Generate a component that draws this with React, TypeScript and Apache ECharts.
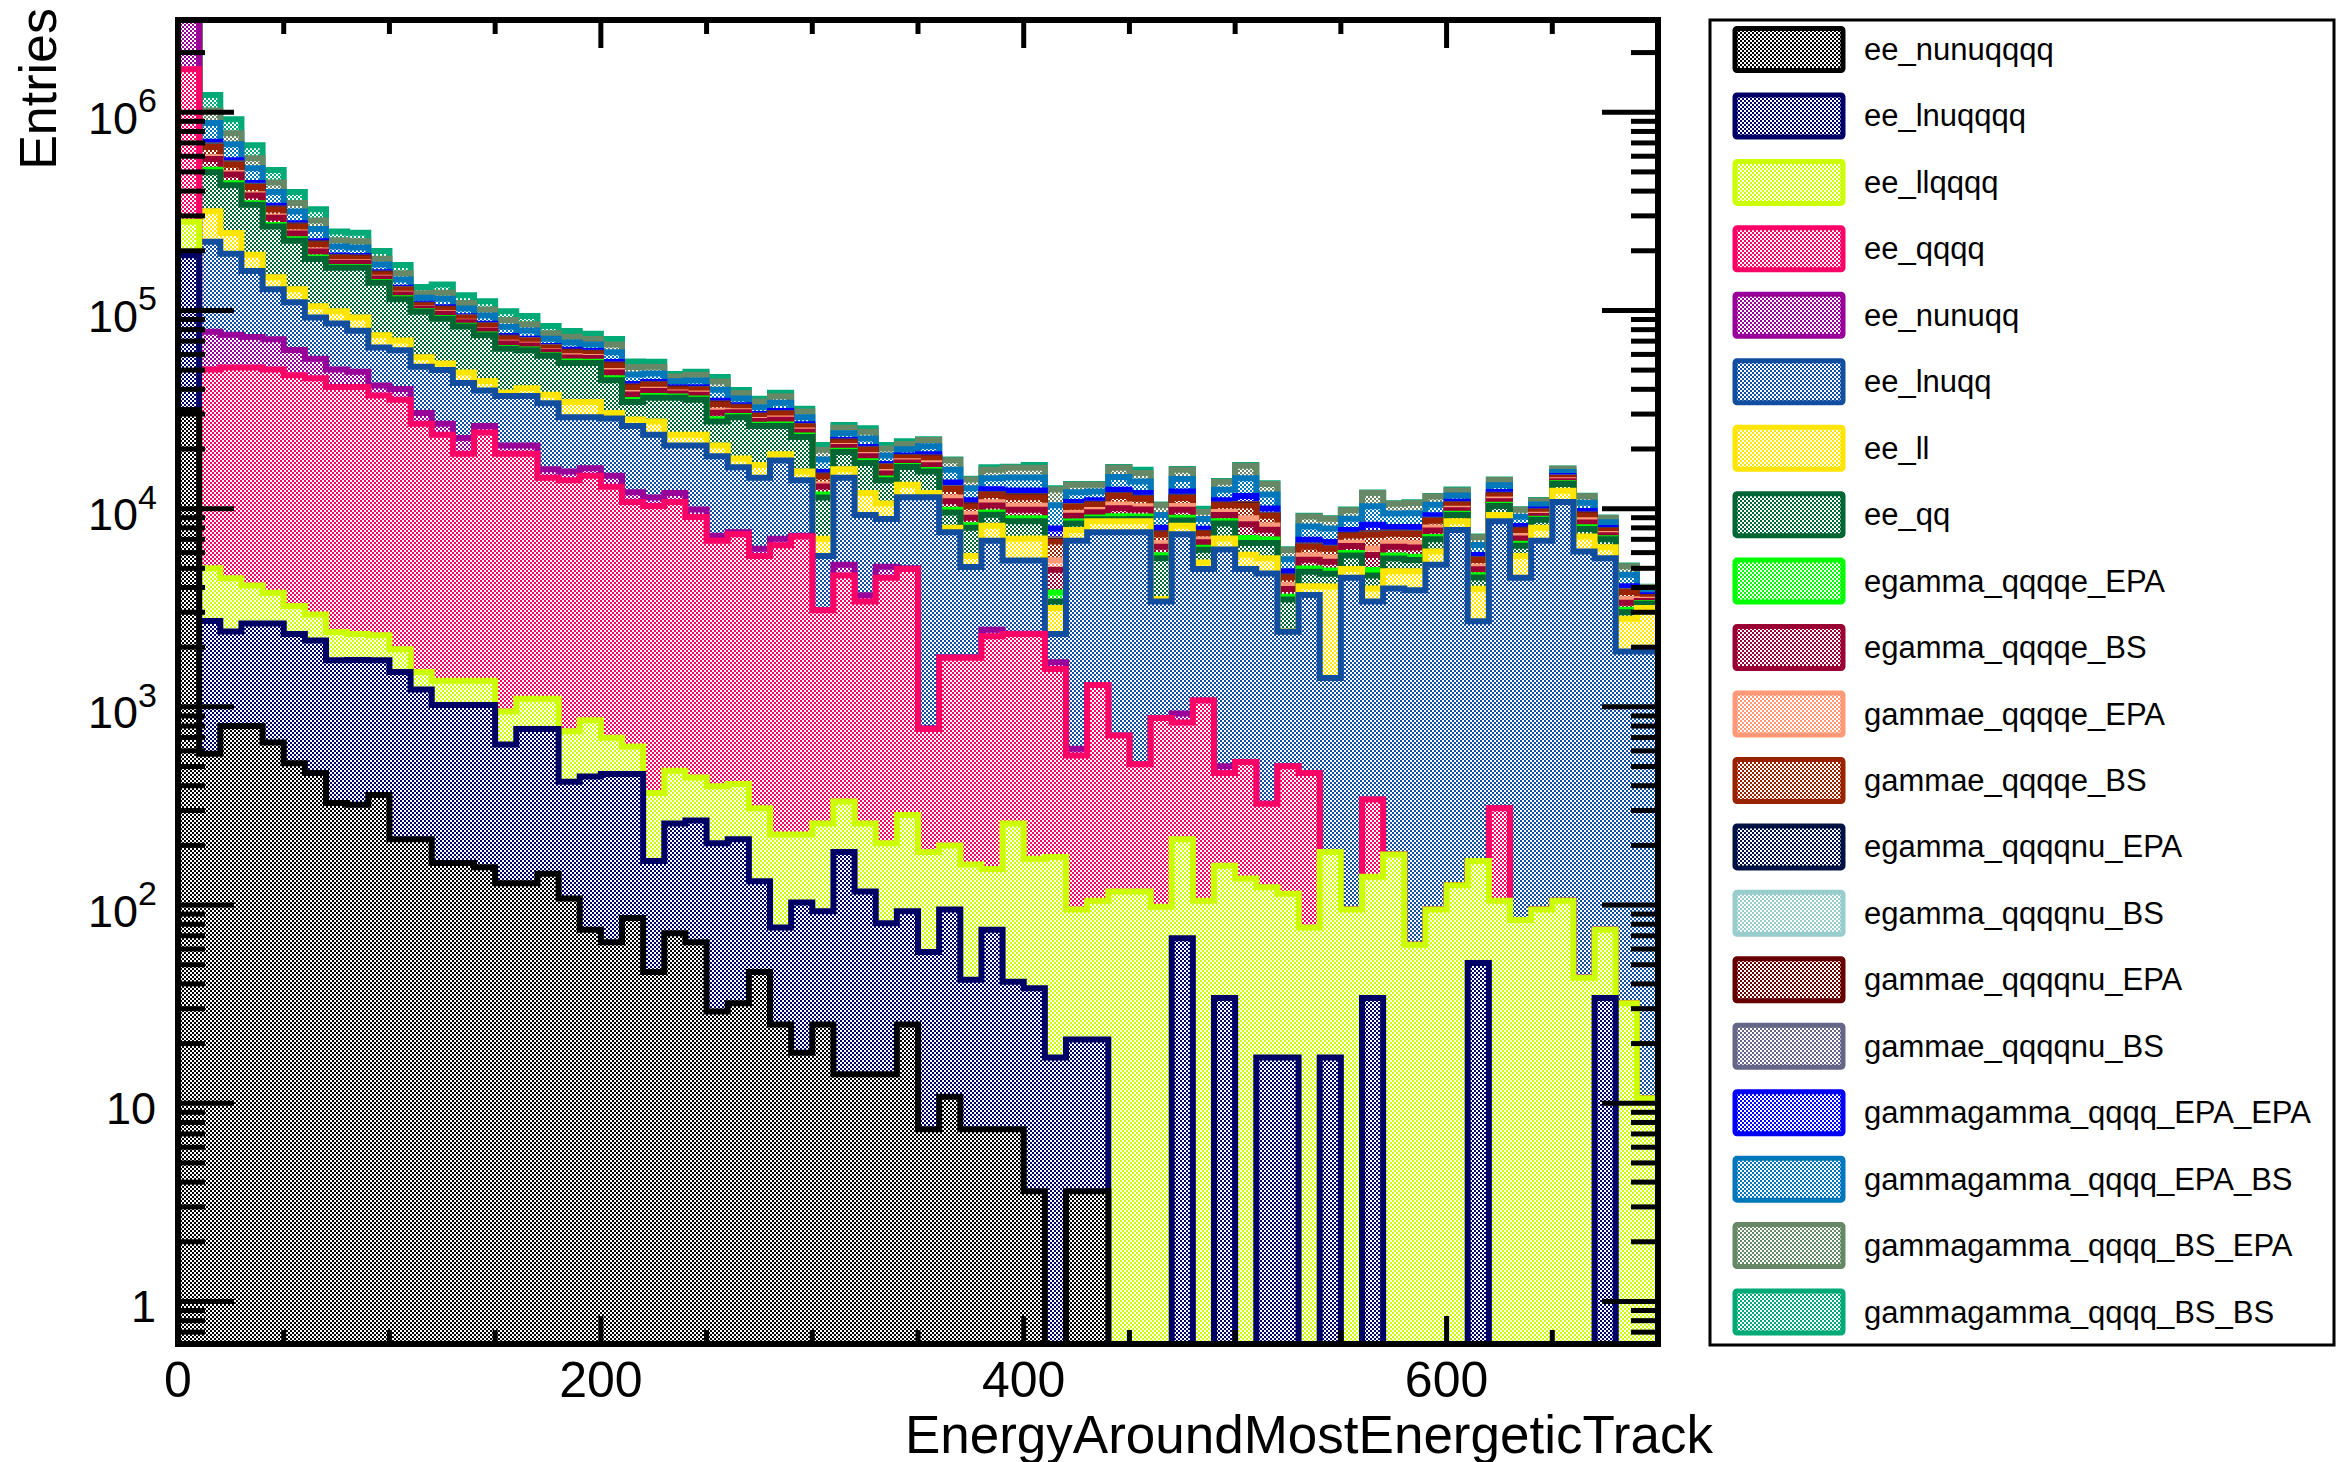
import React, { useEffect, useRef } from 'react';
import * as echarts from 'echarts';

const FONT = '"Liberation Sans", Arial, Helvetica, sans-serif';
const BIN_WIDTH = 10;
const X_MIN = 0;
const X_MAX = 700;
const Y_MIN = 0.61;
const Y_MAX = 2.92e6;

const X_TICK_LABELS = [0, 200, 400, 600];
const Y_LABEL_EXPONENTS = [0, 1, 2, 3, 4, 5, 6];

const NAMES = [
  'ee_nunuqqqq', 'ee_lnuqqqq', 'ee_llqqqq', 'ee_qqqq', 'ee_nunuqq', 'ee_lnuqq', 'ee_ll', 'ee_qq',
  'egamma_qqqqe_EPA', 'egamma_qqqqe_BS', 'gammae_qqqqe_EPA', 'gammae_qqqqe_BS',
  'egamma_qqqqnu_EPA', 'egamma_qqqqnu_BS', 'gammae_qqqqnu_EPA', 'gammae_qqqqnu_BS',
  'gammagamma_qqqq_EPA_EPA', 'gammagamma_qqqq_EPA_BS', 'gammagamma_qqqq_BS_EPA', 'gammagamma_qqqq_BS_BS',
];

const COLORS = [
  '#000000', '#000066', '#ccff00', '#ff0066', '#990099', '#124ea0', '#ffe500', '#006633',
  '#00ff00', '#990033', '#ff9977', '#992200',
  '#001144', '#99cccc', '#660000', '#666688',
  '#0000ff', '#0077bb', '#668866', '#00aa77',
];

// values per 10-unit bin (70 bins, 0..700)
const ee_nunuqqqq = [
  31500, 580, 800, 800, 660, 520, 464, 327, 321, 359,
  215, 215, 163, 163, 155, 129, 129, 144, 108, 75,
  65, 86, 46, 72, 65, 29, 32, 46, 25, 18,
  25, 14, 14, 14, 25, 7.4, 10.8, 7.4, 7.4, 7.4,
  3.6, 0, 3.6, 3.6, 0, 0, 0, 0, 0, 0,
  0, 0, 0, 0, 0, 0, 0, 0, 0, 0,
  0, 0, 0, 0, 0, 0, 0, 0, 0, 0,
];
const ee_lnuqqqq = [
  158500, 2130, 1600, 1830, 1970, 1810, 1700, 1390, 1400, 1360,
  1285, 1010, 860, 860, 868, 517, 643, 628, 311, 370,
  394, 373, 121, 186, 202, 176, 183, 86, 52, 85,
  68, 171, 103, 67, 68, 50.6, 84.2, 34.6, 67.6, 33.6,
  34.4, 17, 17.4, 17.4, 0, 0, 0, 68, 0, 34,
  0, 17, 17, 0, 17, 0, 34, 0, 0, 0,
  0, 51, 0, 0, 0, 0, 0, 34, 0, 0,
];
const ee_llqqqq = [
  90000, 2290, 2050, 1470, 1130, 900, 760, 670, 610, 580,
  450, 275, 333, 333, 333, 302, 328, 328, 334, 410,
  239, 171, 201, 218, 173, 193, 193, 176, 150, 124,
  165, 148, 141, 124, 192, 127, 105, 118, 77, 217,
  133, 158, 74, 84, 117, 117, 98, 147, 105, 124,
  136, 106, 97, 77, 168, 95, 105, 180, 63, 95,
  126, 116, 105, 84, 95, 105, 43, 41, 32, 10.6,
];
const ee_qqqq = [
  1370000, 45300, 47150, 47500, 46540, 43870, 42580, 38710, 38770, 34900,
  33450, 25300, 22240, 17540, 22840, 17950, 17800, 13200, 13150, 13800,
  12200, 10170, 9930, 10320, 8630, 6480, 7010, 5460, 6310, 7000,
  2810, 4260, 3140, 4280, 4680, 588, 1570, 1610, 2120, 2070,
  2160, 1375, 474, 1185, 599, 397, 781, 619, 972, 306,
  391, 201, 387, 387, 0, 0, 202, 0, 0, 0,
  0, 0, 203, 0, 0, 0, 0, 0, 0, 0,
];
const ee_nunuqq = [
  1850000, 27700, 23700, 21800, 21300, 16000, 11600, 9200, 7900, 4600,
  4700, 3600, 3200, 3800, 1900, 1900, 1900, 1500, 1500, 1350,
  1750, 1300, 1100, 1200, 820, 420, 180, 510, 510, 70,
  0, 620, 260, 600, 40, 7, 10, 10, 180, 10,
  10, 130, 45, 0, 0, 0, 0, 91, 0, 37,
  0, 0, 0, 0, 0, 0, 0, 0, 0, 0,
  0, 0, 0, 0, 0, 0, 0, 0, 0, 0,
];
const ee_lnuqq = [
  100000, 144000, 117700, 84600, 56400, 46900, 34900, 35700, 30000, 23200,
  22900, 21600, 23200, 20300, 13400, 16200, 16200, 18200, 13500, 12900,
  13850, 14000, 12200, 8800, 10910, 11100, 8600, 8020, 10450, 6600,
  2700, 9090, 5640, 3770, 6400, 10620, 5820, 3300, 4430, 3140,
  3140, 650, 6270, 6310, 6880, 7090, 2520, 6500, 3880, 5720,
  4430, 4390, 1890, 3200, 1215, 4385, 3060, 3770, 3810, 5115,
  7670, 2540, 8320, 4400, 6785, 10700, 6030, 5545, 1870, 1890,
];
const ee_ll = [
  50000, 95000, 53000, 33000, 19000, 18000, 13000, 13000, 13000, 10000,
  7500, 6000, 4000, 5600, 4500, 1600, 3500, 3600, 5600, 5600,
  1900, 2100, 3900, 2800, 2800, 2400, 1700, 2300, 1300, 1500,
  1290, 1500, 2700, 1750, 1800, 600, 400, 690, 1320, 1580,
  1580, 820, 920, 1030, 1030, 1030, 100, 780, 390, 840,
  890, 910, 10, 390, 2650, 480, 550, 880, 960, 860,
  830, 1240, 670, 1290, 1120, 1500, 1160, 760, 880, 1250,
];
const ee_qq = [
  50000, 181000, 182000, 150000, 118000, 97000, 77000, 65000, 72000, 63000,
  43500, 40400, 36800, 34400, 31000, 25400, 22500, 21400, 19800, 19800,
  14000, 6300, 8800, 12700, 11800, 6700, 11000, 9500, 7300, 7600,
  4340, 3500, 5000, 3300, 3000, 3400, 1550, 2230, 1100, 1570,
  1570, 250, 610, 220, 220, 220, 2120, 500, 850, 1350,
  860, 1090, 1080, 750, 650, 840, 650, 770, 670, 930,
  670, 550, 1000, 730, 800, 1000, 670, 620, 220, 150,
];
const egamma_qqqqe_EPA = [
  10000, 14400, 9840, 6780, 4900, 3400, 2820, 1720, 1640, 1220,
  1100, 652, 884, 720, 720, 700, 610, 488, 888, 796,
  1040, 792, 720, 464, 548, 748, 432, 392, 496, 360,
  384, 288, 340, 284, 228, 284, 334, 252, 268, 311,
  311, 380, 200, 182, 302, 262, 199, 292, 144, 220,
  408, 276, 113, 180, 175, 168, 308, 208, 216, 188,
  128, 112, 152, 140, 92, 108, 152, 83, 88, 30,
];
const egamma_qqqqe_BS = [
  10000, 68600, 46700, 32200, 23300, 16200, 13400, 8170, 7790, 5800,
  5230, 3100, 4200, 3420, 3420, 3330, 2900, 2320, 2660, 2390,
  3130, 2380, 2160, 1390, 1640, 2240, 1300, 1180, 1490, 1080,
  1150, 864, 1020, 852, 684, 852, 1000, 756, 804, 932,
  932, 1140, 599, 546, 906, 786, 598, 876, 432, 659,
  1220, 827, 338, 540, 524, 504, 924, 624, 648, 564,
  384, 336, 456, 420, 276, 324, 456, 248, 265, 90,
];
const gammae_qqqqe_EPA = [
  2000, 12000, 8500, 6000, 4500, 3000, 2600, 1500, 1500, 1100,
  1000, 600, 800, 650, 650, 640, 560, 450, 800, 700,
  950, 700, 650, 420, 500, 680, 400, 360, 450, 330,
  350, 260, 310, 260, 210, 426, 501, 378, 402, 466,
  466, 570, 299, 273, 453, 393, 299, 438, 216, 329,
  611, 413, 169, 270, 262, 252, 462, 312, 324, 282,
  192, 168, 228, 210, 138, 162, 228, 124, 133, 45,
];
const gammae_qqqqe_BS = [
  10000, 75000, 50000, 34000, 25000, 17500, 14500, 9000, 8500, 6300,
  5700, 3400, 4600, 3700, 3700, 3600, 3150, 2500, 2890, 2590,
  3390, 2570, 2340, 1510, 1780, 2430, 1400, 1270, 1610, 1170,
  1250, 936, 1110, 923, 741, 994, 1170, 882, 938, 1090,
  1090, 1330, 699, 637, 1060, 917, 697, 1020, 504, 769,
  1430, 965, 395, 630, 612, 588, 1080, 728, 756, 658,
  448, 392, 532, 490, 322, 378, 532, 290, 309, 105,
];
const egamma_qqqqnu_EPA = [
  1000, 3600, 2460, 1700, 1230, 850, 705, 430, 410, 305,
  275, 163, 221, 180, 180, 175, 153, 122, 111, 100,
  130, 99, 90, 58, 69, 94, 54, 49, 62, 45,
  48, 36, 43, 36, 29, 36, 42, 32, 34, 39,
  39, 48, 25, 23, 38, 33, 25, 37, 18, 27,
  51, 34, 14, 23, 22, 21, 39, 26, 27, 24,
  16, 14, 19, 18, 12, 14, 19, 10, 11, 4,
];
const egamma_qqqqnu_BS = [
  600, 2200, 1500, 1000, 740, 510, 420, 260, 250, 180,
  165, 100, 130, 110, 110, 105, 92, 73, 67, 60,
  78, 59, 54, 35, 41, 56, 32, 29, 37, 27,
  29, 22, 26, 22, 17, 22, 25, 19, 20, 23,
  23, 29, 15, 14, 23, 20, 15, 22, 11, 16,
  31, 20, 8, 14, 13, 13, 23, 16, 16, 14,
  10, 8, 11, 11, 7, 8, 11, 6, 7, 2,
];
const gammae_qqqqnu_EPA = [
  1300, 4700, 3200, 2200, 1600, 1100, 920, 560, 530, 400,
  360, 210, 290, 234, 234, 228, 200, 159, 144, 130,
  169, 129, 117, 75, 90, 122, 70, 64, 81, 59,
  62, 47, 56, 47, 38, 47, 55, 42, 44, 51,
  51, 62, 33, 30, 49, 43, 33, 48, 23, 35,
  66, 44, 18, 30, 29, 27, 51, 34, 35, 31,
  21, 18, 25, 23, 16, 18, 25, 13, 14, 5,
];
const gammae_qqqqnu_BS = [
  800, 2900, 2000, 1360, 980, 680, 560, 340, 330, 244,
  220, 130, 177, 144, 144, 140, 122, 98, 89, 80,
  104, 79, 72, 46, 55, 75, 43, 39, 50, 36,
  38, 29, 34, 29, 23, 29, 34, 26, 27, 31,
  31, 38, 20, 18, 30, 26, 20, 30, 14, 22,
  41, 27, 11, 18, 18, 17, 31, 21, 22, 19,
  13, 11, 15, 14, 10, 11, 15, 8, 9, 3,
];
const gammagamma_qqqq_EPA_EPA = [
  5000, 28900, 19700, 13600, 9800, 6800, 5640, 3440, 3280, 2440,
  2200, 1300, 1770, 1440, 1440, 1400, 1220, 976, 1330, 1190,
  1570, 1190, 1080, 696, 822, 1120, 648, 588, 744, 540,
  576, 432, 510, 426, 342, 710, 835, 630, 670, 777,
  777, 950, 499, 455, 755, 655, 498, 730, 360, 549,
  1020, 689, 282, 450, 437, 420, 770, 520, 540, 470,
  320, 280, 380, 350, 230, 270, 380, 207, 221, 75,
];
const gammagamma_qqqq_EPA_BS = [
  30000, 173000, 118000, 81400, 58800, 40800, 33800, 20600, 19700, 14600,
  13200, 7820, 10600, 8640, 8640, 8400, 7320, 5860, 5550, 4980,
  6530, 4950, 4500, 2900, 3430, 4680, 2700, 2450, 3100, 2250,
  2400, 1800, 2130, 1780, 1430, 1850, 2170, 1640, 1740, 2020,
  2020, 2470, 1300, 1180, 1960, 1700, 1290, 1900, 936, 1430,
  2650, 1790, 733, 1170, 1140, 1090, 2000, 1350, 1400, 1220,
  832, 728, 988, 910, 598, 702, 988, 538, 575, 195,
];
const gammagamma_qqqq_BS_EPA = [
  30000, 137000, 93500, 64400, 46600, 32300, 26800, 16300, 15600, 11600,
  10500, 6190, 8400, 6840, 6840, 6650, 5800, 4640, 4880, 4380,
  5740, 4360, 3960, 2550, 3010, 4110, 2380, 2160, 2730, 1980,
  2110, 1580, 1870, 1560, 1250, 1560, 1840, 1390, 1470, 1710,
  1710, 2090, 1100, 1000, 1660, 1440, 1100, 1610, 792, 1210,
  2240, 1520, 620, 990, 961, 924, 1690, 1140, 1190, 1030,
  704, 616, 836, 770, 506, 594, 836, 455, 486, 165,
];
const gammagamma_qqqq_BS_BS = [
  30000, 202000, 138000, 94900, 68600, 47600, 39500, 24100, 23000, 17100,
  15400, 9130, 12400, 10100, 10100, 9800, 8540, 6830, 5000, 4500,
  4500, 3500, 3000, 1390, 1640, 2240, 1300, 1180, 1490, 1080,
  1150, 864, 1020, 852, 684, 200, 150, 120, 450, 200,
  500, 150, 100, 100, 150, 600, 100, 150, 350, 100,
  150, 100, 60, 80, 60, 80, 100, 80, 100, 90,
  120, 50, 70, 60, 50, 60, 80, 40, 40, 15,
];

const LAYERS = [
  ee_nunuqqqq, ee_lnuqqqq, ee_llqqqq, ee_qqqq, ee_nunuqq, ee_lnuqq, ee_ll, ee_qq,
  egamma_qqqqe_EPA, egamma_qqqqe_BS, gammae_qqqqe_EPA, gammae_qqqqe_BS,
  egamma_qqqqnu_EPA, egamma_qqqqnu_BS, gammae_qqqqnu_EPA, gammae_qqqqnu_BS,
  gammagamma_qqqq_EPA_EPA, gammagamma_qqqq_EPA_BS, gammagamma_qqqq_BS_EPA, gammagamma_qqqq_BS_BS,
];

const N_BINS = ee_nunuqqqq.length;
const CUMULATIVE: number[][] = LAYERS.map((_, k) =>
  Array.from({ length: N_BINS }, (_, i) => {
    let s = 0;
    for (let j = 0; j <= k; j++) s += LAYERS[j][i] || 0;
    return s;
  })
);

function makePattern(color: string) {
  const c = document.createElement('canvas');
  c.width = 4;
  c.height = 4;
  const ctx = c.getContext('2d')!;
  ctx.fillStyle = '#ffffff';
  ctx.fillRect(0, 0, 4, 4);
  ctx.fillStyle = color;
  ctx.fillRect(0, 0, 2, 2);
  ctx.fillRect(2, 2, 2, 2);
  return { image: c.toDataURL(), repeat: 'repeat', imageWidth: 4, imageHeight: 4 };
}

const clampV = (v: number) => Math.min(Math.max(v, Y_MIN), Y_MAX);

function buildOption() {
  const patterns = COLORS.map(makePattern);
  const layerSeries: any[] = [];
  for (let k = LAYERS.length - 1; k >= 0; k--) {
    const top = CUMULATIVE[k];
    layerSeries.push({
      type: 'custom',
      name: NAMES[k],
      coordinateSystem: 'cartesian2d',
      silent: true,
      z: 2,
      data: [[0, 1]],
      renderItem: (params: any, api: any) => {
        const yb = api.coord([X_MIN, Y_MIN])[1];
        const pts: number[][] = [];
        const xStart = api.coord([X_MIN, Y_MIN])[0];
        pts.push([xStart, yb]);
        for (let i = 0; i < top.length; i++) {
          const xa = api.coord([i * BIN_WIDTH, Y_MIN])[0];
          const xb = api.coord([(i + 1) * BIN_WIDTH, Y_MIN])[0];
          const y = api.coord([i * BIN_WIDTH, clampV(top[i])])[1];
          pts.push([xa, y], [xb, y]);
        }
        const xEnd = api.coord([top.length * BIN_WIDTH, Y_MIN])[0];
        pts.push([xEnd, yb]);
        return {
          type: 'group',
          children: [
            {
              type: 'polygon',
              z2: (19 - k) * 2,
              shape: { points: pts },
              style: { fill: patterns[k], stroke: 'none' },
            },
            {
              type: 'polyline',
              z2: (19 - k) * 2 + 1,
              shape: { points: pts },
              style: { fill: 'none', stroke: COLORS[k], lineWidth: 6, lineJoin: 'miter', lineCap: 'butt' },
            },
          ],
        };
      },
    });
  }

  const frameSeries = {
    type: 'custom',
    coordinateSystem: 'cartesian2d',
    silent: true,
    z: 3,
    data: [[0, 1]],
    renderItem: (params: any, api: any) => {
      const cs = params.coordSys;
      const L = cs.x, T = cs.y, R = cs.x + cs.width, B = cs.y + cs.height;
      const children: any[] = [];
      const line = (x1: number, y1: number, x2: number, y2: number) =>
        children.push({ type: 'line', shape: { x1, y1, x2, y2 }, style: { stroke: '#000', lineWidth: 5 } });
      for (let e = -1; e <= 6; e++) {
        for (let m = 1; m <= 9; m++) {
          const v = m * Math.pow(10, e);
          if (v < Y_MIN || v > Y_MAX) continue;
          const y = api.coord([0, v])[1];
          const len = m === 1 ? 56 : 27;
          line(L, y, L + len, y);
          line(R, y, R - len, y);
        }
      }
      for (let v = 50; v < X_MAX; v += 50) {
        const x = api.coord([v, Y_MIN])[0];
        const len = v % 200 === 0 ? 28 : 14;
        line(x, B, x, B - len);
        line(x, T, x, T + len);
      }
      children.push({
        type: 'rect',
        shape: { x: L, y: T, width: R - L, height: B - T },
        style: { fill: 'none', stroke: '#000', lineWidth: 6 },
      });
      Y_LABEL_EXPONENTS.forEach((e) => {
        const y = api.coord([0, Math.pow(10, e)])[1];
        const rightX = L - 22;
        if (e === 0 || e === 1) {
          children.push({
            type: 'text',
            x: rightX,
            y: y + 5,
            style: {
              text: e === 0 ? '1' : '10',
              fill: '#000', fontSize: 45, fontFamily: FONT, lineHeight: 40,
              textAlign: 'right', verticalAlign: 'middle', textVerticalAlign: 'middle',
            },
          });
        } else {
          children.push({
            type: 'text',
            x: rightX - 18,
            y: y + 6,
            style: {
              text: '10',
              fill: '#000', fontSize: 45, fontFamily: FONT, lineHeight: 40,
              textAlign: 'right', verticalAlign: 'middle', textVerticalAlign: 'middle',
            },
          });
          children.push({
            type: 'text',
            x: rightX - 18,
            y: y - 12,
            style: {
              text: String(e),
              fill: '#000', fontSize: 34, fontFamily: FONT, lineHeight: 30,
              textAlign: 'left', verticalAlign: 'middle', textVerticalAlign: 'middle',
            },
          });
        }
      });
      return { type: 'group', children };
    },
  };

  const legendElements: any[] = [];
  legendElements.push({
    type: 'rect',
    shape: { x: 1710, y: 20, width: 624, height: 1325 },
    style: { fill: '#fff', stroke: '#000', lineWidth: 3 },
    z: 1,
  });
  NAMES.forEach((name, i) => {
    const cy = 49.5 + 66.45 * i;
    legendElements.push({
      type: 'rect',
      shape: { x: 1735, y: cy - 21, width: 108, height: 42, r: 2 },
      style: { fill: patterns[i], stroke: COLORS[i], lineWidth: 5 },
      z: 2,
    });
    legendElements.push({
      type: 'text',
      x: 1864,
      y: cy,
      style: {
        text: name, fill: '#000', fontSize: 31, fontFamily: FONT, lineHeight: 34,
        textAlign: 'left', verticalAlign: 'middle', textVerticalAlign: 'middle',
      },
      z: 2,
    });
  });
  legendElements.push({
    type: 'text',
    x: 38,
    y: 8,
    rotation: Math.PI / 2,
    style: {
      text: 'Entries', fill: '#000', fontSize: 52, fontFamily: FONT, lineHeight: 44,
      textAlign: 'right', verticalAlign: 'middle', textVerticalAlign: 'middle',
    },
  });
  legendElements.push({
    type: 'text',
    x: 1713,
    y: 1434,
    style: {
      text: 'EnergyAroundMostEnergeticTrack', fill: '#000', fontSize: 53, fontFamily: FONT, lineHeight: 44,
      textAlign: 'right', verticalAlign: 'middle', textVerticalAlign: 'middle',
    },
  });

  return {
    animation: false,
    backgroundColor: '#ffffff',
    grid: { left: 178, top: 20, width: 1480, height: 1324, containLabel: false },
    xAxis: {
      type: 'value',
      min: X_MIN,
      max: X_MAX,
      interval: 200,
      axisLine: { show: false },
      axisTick: { show: false },
      splitLine: { show: false },
      axisLabel: {
        color: '#000',
        fontSize: 50,
        lineHeight: 40,
        fontFamily: FONT,
        margin: 16,
        showMaxLabel: false,
        formatter: (v: number) => (X_TICK_LABELS.indexOf(v) >= 0 ? String(v) : ''),
      },
    },
    yAxis: {
      type: 'log',
      logBase: 10,
      min: Y_MIN,
      max: Y_MAX,
      axisLine: { show: false },
      axisTick: { show: false },
      splitLine: { show: false },
      axisLabel: { show: false },
    },
    series: [...layerSeries, frameSeries],
    graphic: { elements: legendElements },
  };
}

export default function App() {
  const ref = useRef<HTMLDivElement>(null);
  useEffect(() => {
    document.body.style.margin = '0';
    const chart = echarts.init(ref.current!, null, { renderer: 'svg' });
    chart.setOption(buildOption() as any);
    return () => chart.dispose();
  }, []);
  return <div ref={ref} style={{ width: 2352, height: 1462, background: '#fff' }} />;
}
